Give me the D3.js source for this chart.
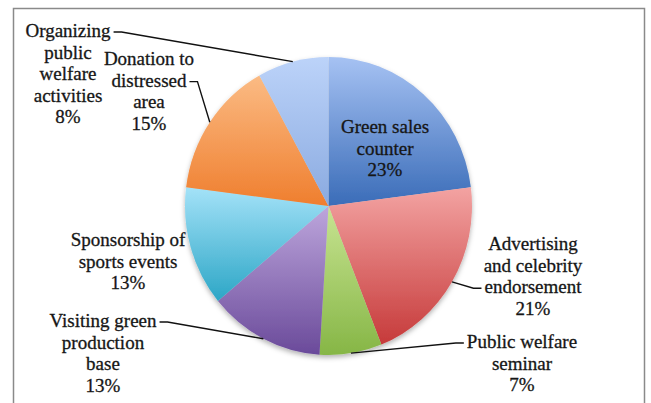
<!DOCTYPE html>
<html lang="en">
<head>
    <meta charset="UTF-8">
    <title>Green marketing activities</title>
    <script src="https://cdn.jsdelivr.net/npm/d3@7/dist/d3.min.js"></script>
    <style>
        body { margin: 0; background: #fff; }
        .lbl { font-family: "Liberation Serif", serif; font-size: 19px; fill: #161616; stroke: #161616; stroke-width: 0.3; }
        .leader { fill: none; stroke: #111; stroke-width: 1.4; }
    </style>
</head>
<body>
    <svg id="chart" width="651" height="403"></svg>

    <script>
        // Data, clockwise from 12 o'clock
        const categories = [
            "Green sales counter",
            "Advertising and celebrity endorsement",
            "Public welfare seminar",
            "Visiting green production base",
            "Sponsorship of sports events",
            "Donation to distressed area",
            "Organizing public welfare activities"
        ];
        const shares = [23, 21, 7, 13, 13, 15, 8];
        const labelLines = [
            ["Green sales", "counter", "23%"],
            ["Advertising", "and celebrity", "endorsement", "21%"],
            ["Public welfare", "seminar", "7%"],
            ["Visiting green", "production", "base", "13%"],
            ["Sponsorship of", "sports events", "13%"],
            ["Donation to", "distressed", "area", "15%"],
            ["Organizing", "public", "welfare", "activities", "8%"]
        ];

        // Gradient colours (top, bottom) per slice
        const topColors = ["#a6c2f3", "#f3a3a2", "#c8e492", "#bda6dc", "#a4e2f8", "#fbbb84", "#bcd3f9"];
        const bottomColors = ["#3a6cb8", "#c63a3a", "#86b646", "#6a4a9a", "#2ca6c6", "#ef7e2e", "#8aaae0"];

        // Layout
        const cx = 328.5, cy = 206, rx = 143.5, ry = 149;
        // label anchor (center x, first baseline) and which row the leader leaves from
        const labelPos = [
            { x: 385, y: 133, leader: false },
            { x: 533, y: 250, leader: true, row: 2, side: "left" },
            { x: 522, y: 348, leader: true, row: 0, side: "left" },
            { x: 103, y: 327, leader: true, row: 0, side: "right" },
            { x: 128, y: 246, leader: false },
            { x: 149, y: 65, leader: true, row: 1, side: "right" },
            { x: 68, y: 37, leader: true, row: 0, side: "right" }
        ];
        const lineH = 21.6;

        const svg = d3.select("#chart");

        // Chart frame
        svg.append("rect")
            .attr("x", 13.5).attr("y", 8.5)
            .attr("width", 631).attr("height", 420)
            .attr("fill", "none")
            .attr("stroke", "#8a8a8a")
            .attr("stroke-width", 1.5);

        const defs = svg.append("defs");
        const shadow = defs.append("filter").attr("id", "shadow")
            .attr("x", "-20%").attr("y", "-20%").attr("width", "140%").attr("height", "140%");
        shadow.append("feDropShadow")
            .attr("dx", 0).attr("dy", 2.5)
            .attr("stdDeviation", 2.5)
            .attr("flood-color", "#000")
            .attr("flood-opacity", 0.3);

        shares.forEach((d, i) => {
            const g = defs.append("linearGradient")
                .attr("id", "grad" + i)
                .attr("x1", 0).attr("y1", 0).attr("x2", 0).attr("y2", 1);
            g.append("stop").attr("offset", "0%").attr("stop-color", topColors[i]);
            g.append("stop").attr("offset", "100%").attr("stop-color", bottomColors[i]);
        });

        const pie = d3.pie().sort(null).value(d => d);
        const arcs = pie(shares);
        const arc = d3.arc().innerRadius(0).outerRadius(rx);

        // slices are drawn on a circle and stretched vertically to match the picture
        const pieG = svg.append("g")
            .attr("transform", `translate(${cx},${cy}) scale(1,${ry / rx})`)
            .attr("filter", "url(#shadow)");

        pieG.selectAll("path")
            .data(arcs)
            .enter()
            .append("path")
            .attr("d", arc)
            .attr("fill", (d, i) => `url(#grad${i})`);

        // Point on the rim at the middle of a slice
        function rimPoint(a) {
            const m = (a.startAngle + a.endAngle) / 2;
            return [cx + rx * Math.sin(m), cy - ry * Math.cos(m)];
        }

        // Labels
        const labels = svg.append("g");
        labelLines.forEach((lines, i) => {
            const p = labelPos[i];
            const t = labels.append("text")
                .attr("class", "lbl")
                .attr("text-anchor", "middle");
            lines.forEach((ln, j) => {
                t.append("tspan")
                    .attr("x", p.x)
                    .attr("y", p.y + j * lineH)
                    .text(ln);
            });

            if (p.leader) {
                // measure the row the leader attaches to
                const row = t.selectAll("tspan").nodes()[p.row];
                const w = row.getComputedTextLength();
                const ly = p.y + p.row * lineH - 5;
                const x0 = p.side === "right" ? p.x + w / 2 + 3 : p.x - w / 2 - 3;
                const x1 = p.side === "right" ? x0 + 8 : x0 - 8;
                const [ex, ey] = rimPoint(arcs[i]);
                labels.append("path")
                    .attr("class", "leader")
                    .attr("d", d3.line()([[x0, ly], [x1, ly], [ex, ey]]));
            }
        });
    </script>
</body>
</html>
